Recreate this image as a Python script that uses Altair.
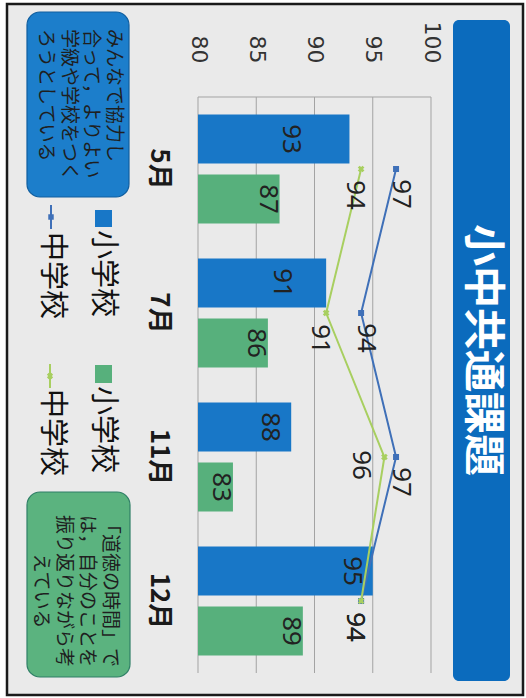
import altair as alt
import pandas as pd

# ---- data ----
months = ["5月", "7月", "11月", "12月"]
sho_blue = [93, 91, 88, 95]      # 小学校 (blue bars)
sho_green = [87, 86, 83, 89]     # 小学校 (green bars)
chu_blue = [97, 94, 97, 94]      # 中学校 (blue line)
chu_green = [94, 91, 96, 94]     # 中学校 (green line)
legend_labels = ["小学校", "中学校", "小学校", "中学校"]
x_ticks = [80, 85, 90, 95, 100]
title_text = "小中共通課題"
note_blue = ["みんなで協力し", "合って，よりよい", "学級や学校をつく", "ろうとしている"]
note_green = ["「道徳の時間」で", "は，自分のことを", "振り返りながら考", "えている"]

# ---- styles ----
BLUE_BAR = "#1877C7"
GREEN_BAR = "#57B07C"
BLUE_LINE = "#3F70B8"
GREEN_LINE = "#A8CF60"
BANNER = "#0B6BBD"
JP = "Noto Sans CJK JP"
NUM = "Noto Sans"

bars = pd.DataFrame({
    "month": months * 2,
    "grp": ["b"] * 4 + ["g"] * 4,
    "value": sho_blue + sho_green,
})
lines = pd.DataFrame({
    "month": months * 2,
    "idx": list(range(4)) * 2,
    "ser": ["b"] * 4 + ["g"] * 4,
    "value": chu_blue + chu_green,
})
grid = pd.DataFrame({"v": x_ticks})
one = pd.DataFrame({"k": [0]})

x_scale = alt.Scale(domain=[80, 100], zero=False, nice=False)
x_axis = alt.Axis(orient="top", values=x_ticks, labelAngle=90, labelAlign="right",
                  labelBaseline="middle", labelPadding=34, labelFontSize=22,
                  labelFont="DejaVu Sans", labelColor="#333", ticks=False,
                  domain=False, grid=False, title=None, zindex=1)
y_scale = alt.Scale(domain=months, paddingInner=0, paddingOuter=0)
y_axis = alt.Axis(orient="left", labelAngle=90, labelAlign="center", labelBaseline="top",
                  labelPadding=27, labelFontSize=26, labelFontWeight="bold",
                  labelFont=JP, labelColor="#1a1a1a", ticks=False, domain=False,
                  grid=False, title=None, zindex=1)

X = alt.X("value:Q", scale=x_scale, axis=x_axis)
Y = alt.Y("month:N", scale=y_scale, axis=y_axis, sort=months)
YOFF = alt.YOffset("grp:N", scale=alt.Scale(domain=["b", "g"], paddingInner=0.18, paddingOuter=0.29))
COLOR = alt.Color("grp:N", scale=alt.Scale(domain=["b", "g"], range=[BLUE_BAR, GREEN_BAR]), legend=None)

# offsets relative to the plot origin (198, 97)
OX, OY = 198, 97

def rect(x1, x2, y1, y2, **kw):
    return alt.Chart(one).mark_rect(**kw).encode(
        x=alt.value(x1 - OX), x2=alt.value(x2 - OX),
        y=alt.value(y1 - OY), y2=alt.value(y2 - OY))

def label(txt, x, y, **kw):
    return alt.Chart(pd.DataFrame({"t": [txt]})).mark_text(angle=90, **kw).encode(
        x=alt.value(x - OX), y=alt.value(y - OY), text="t:N")

frame = rect(7, 523, 4, 695, fill="#EAEAEA", stroke="#1a1a1a", strokeWidth=2.5)
banner = rect(453, 510, 20, 681, fill=BANNER, cornerRadius=6)
title = label(title_text, 482, 350, fontSize=42, font=JP, fontWeight="bold",
              color="white", align="center", baseline="middle")

box_b = rect(27, 129, 12, 197, fill="#1C7ECB", stroke="#105E9F", strokeWidth=1.2, cornerRadius=13)
box_g = rect(27, 130, 492, 677, fill="#5BB37F", stroke="#2F7F66", strokeWidth=1.2, cornerRadius=13)
note_layers = []
for i, line in enumerate(note_blue):
    note_layers.append(label(line, 114 - 22.7 * i, 29, fontSize=19, font=JP, color="#1f1f1f",
                             align="left", baseline="middle"))
for i, line in enumerate(note_green):
    note_layers.append(label(line, 110 - 23 * i, 591, fontSize=19, font=JP, color="#1f1f1f",
                             align="center", baseline="middle"))

# legend (manual, rotated)
lg_sq_b = rect(95, 112, 210, 227, fill=BLUE_BAR)
lg_tx_b = label(legend_labels[0], 103, 230, fontSize=29, font=JP, color="#111",
                align="left", baseline="middle")
lg_ln_b = alt.Chart(one).mark_rule(color=BLUE_LINE, strokeWidth=2).encode(
    x=alt.value(51 - OX), y=alt.value(205 - OY), y2=alt.value(229 - OY))
lg_pt_b = alt.Chart(one).mark_point(shape="square", size=30, filled=True, color=BLUE_LINE,
                                    opacity=1).encode(x=alt.value(51 - OX), y=alt.value(217 - OY))
lg_tx_b2 = label(legend_labels[1], 52, 232, fontSize=29, font=JP, color="#111",
                 align="left", baseline="middle")
lg_sq_g = rect(95, 112, 365, 383, fill=GREEN_BAR)
lg_tx_g = label(legend_labels[2], 103, 386, fontSize=29, font=JP, color="#111",
                align="left", baseline="middle")
lg_ln_g = alt.Chart(one).mark_rule(color=GREEN_LINE, strokeWidth=2).encode(
    x=alt.value(50 - OX), y=alt.value(364 - OY), y2=alt.value(388 - OY))
lg_pt_g = alt.Chart(one).mark_point(shape="cross", angle=45, size=40, filled=True,
                                    color=GREEN_LINE, opacity=1).encode(
    x=alt.value(50 - OX), y=alt.value(376 - OY))
lg_tx_g2 = label(legend_labels[3], 52, 389, fontSize=29, font=JP, color="#111",
                 align="left", baseline="middle")

# grid + top border
gridlines = alt.Chart(grid).mark_rule(color="#A3A3A3", strokeWidth=1).encode(
    x=alt.X("v:Q", scale=x_scale, axis=x_axis), y=alt.value(0), y2=alt.value(576))
topline = alt.Chart(one).mark_rule(color="#A3A3A3", strokeWidth=1).encode(
    x=alt.datum(80, scale=x_scale, axis=x_axis), x2=alt.datum(100), y=alt.value(0))

# bars
bar = alt.Chart(bars).mark_bar().encode(
    x=X, x2=alt.datum(80), y=Y, yOffset=YOFF, color=COLOR)
txt_kw = dict(angle=90, align="center", baseline="middle", fontSize=26, font=NUM, color="#222")

def bar_label(cond, shift):
    return alt.Chart(bars).transform_filter(cond).mark_text(dy=shift, **txt_kw).encode(
        x=X, y=Y, yOffset=YOFF, text="value:Q")

bar_labels = [
    bar_label("datum.grp == 'b' && datum.month == '5月'", 58),
    bar_label("datum.grp == 'b' && datum.month == '7月'", 44),
    bar_label("datum.grp == 'b' && (datum.month == '11月' || datum.month == '12月')", 21),
    bar_label("datum.grp == 'g'", 12),
]

# lines
def line_layer(ser, color, shape, size, angle=0):
    base = alt.Chart(lines).transform_filter(f"datum.ser == '{ser}'")
    ln = base.mark_line(color=color, strokeWidth=2).encode(x=X, y=Y, order="idx:Q")
    pt = base.mark_point(shape=shape, size=size, filled=True, color=color, opacity=1,
                         angle=angle).encode(x=X, y=Y)
    return ln + pt

line_b = line_layer("b", BLUE_LINE, "square", 36)
line_g = line_layer("g", GREEN_LINE, "cross", 45, 45)

def line_label(cond, dx, dy):
    return alt.Chart(lines).transform_filter(cond).mark_text(dx=dx, dy=dy, **txt_kw).encode(
        x=X, y=Y, text="value:Q")

line_labels = [
    line_label("datum.ser == 'b' && datum.month != '12月'", 25, -5),
    line_label("datum.ser == 'g' && datum.month != '11月'", 26, 6),
    line_label("datum.ser == 'b' && datum.month == '12月'", 26, 6),
    line_label("datum.ser == 'g' && datum.month == '11月'", 8, 23),
]

chart = alt.layer(
    frame, banner, title, box_b, box_g, *note_layers,
    lg_sq_b, lg_tx_b, lg_ln_b, lg_pt_b, lg_tx_b2,
    lg_sq_g, lg_tx_g, lg_ln_g, lg_pt_g, lg_tx_g2,
    gridlines, topline, bar, *bar_labels,
    line_b, line_g, *line_labels,
).properties(
    width=233, height=576,
    autosize=alt.AutoSizeParams(type="none"),
    padding={"left": OX, "top": OY, "right": 526 - 431, "bottom": 698 - 673},
    background="white",
).configure_view(stroke=None)

chart.save("out.html", embed_options={"renderer": "svg", "actions": False})
